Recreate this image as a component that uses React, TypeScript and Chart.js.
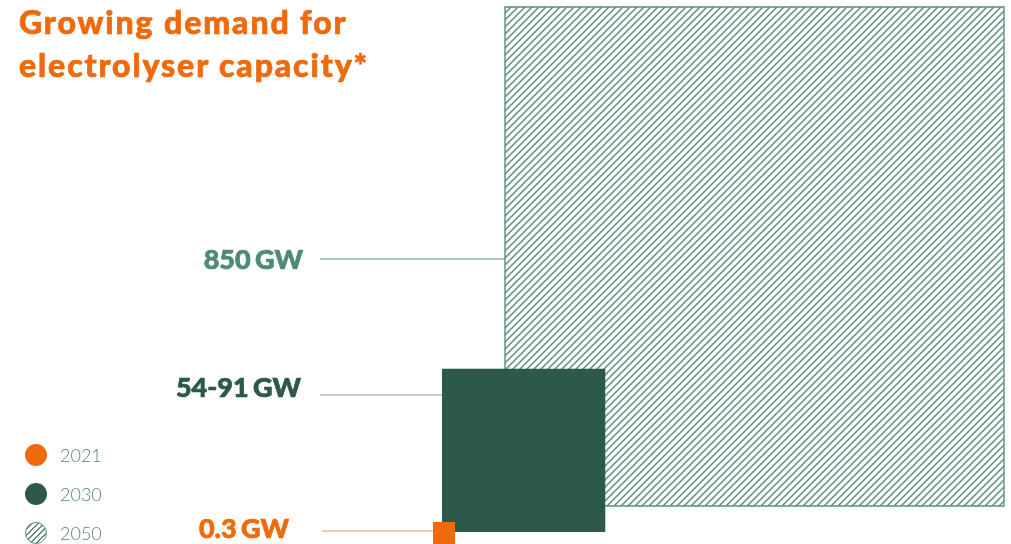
import React, { useEffect, useRef } from "react";
import { Chart, registerables } from "chart.js";

Chart.register(...registerables);

// ---- data ----
const years = ["2021", "2030", "2050"];
const capacityLabels = ["0.3 GW", "54-91 GW", "850 GW"];
const capacityLowGW = [0.3, 54, 850];
const capacityHighGW = [0.3, 91, 850];

// ---- styling / layout ----
const ORANGE = "#ef6a0c";
const DARK_GREEN = "#2c594b";
const HATCH_GREEN = "#5b8e7d";
const W = 1011;
const H = 544;
const PX_PER_ROOT_GW = 499 / Math.sqrt(850);
const MIN_SIDE = 22;
// bottom-left anchor of each square (canvas units)
const anchorX = [433, 442, 505];
const anchorBottom = [544, 532, 506];
const leaderY = [531, 395, 259];
const leaderStartX = [322, 320, 320];
const labelRightX = [289, 301, 303];
const labelBaseline = [538, 397, 269];
const labelColors = [ORANGE, DARK_GREEN, "#4f8a77"];
const leaderColors = ["#f2904c", "#7fa398", "#5b8e7d"];

function makeHatch(ctx: CanvasRenderingContext2D) {
  const s = 7;
  const c = document.createElement("canvas");
  c.width = s;
  c.height = s;
  const g = c.getContext("2d")!;
  g.strokeStyle = HATCH_GREEN;
  g.lineWidth = 1.5;
  g.beginPath();
  g.moveTo(0, s);
  g.lineTo(s, 0);
  g.moveTo(-1, 1);
  g.lineTo(1, -1);
  g.moveTo(s - 1, s + 1);
  g.lineTo(s + 1, s - 1);
  g.stroke();
  return ctx.createPattern(c, "repeat");
}

export default function App() {
  const ref = useRef<HTMLCanvasElement>(null);
  useEffect(() => {
    document.body.style.margin = "0";
    const canvas = ref.current!;
    const ctx = canvas.getContext("2d")!;
    const hatch = makeHatch(ctx);

    const squareDatasets = years.map((y, i) => {
      const side = Math.max(Math.sqrt(capacityHighGW[i]) * PX_PER_ROOT_GW, MIN_SIDE);
      const x0 = anchorX[i];
      const yb = anchorBottom[i];
      const pts = [
        { x: x0, y: yb },
        { x: x0 + side, y: yb },
        { x: x0 + side, y: yb - side },
        { x: x0, y: yb - side },
        { x: x0, y: yb },
      ];
      const fillColor = i === 0 ? ORANGE : i === 1 ? DARK_GREEN : hatch;
      return {
        label: y,
        data: pts,
        showLine: true,
        fill: "shape" as any,
        backgroundColor: fillColor as any,
        borderColor: i === 2 ? HATCH_GREEN : fillColor,
        borderWidth: i === 2 ? 1.4 : 0,
        pointRadius: 0,
        tension: 0,
      };
    });

    const leaderDatasets = years.map((y, i) => ({
      label: "leader " + y,
      data: [
        { x: leaderStartX[i], y: leaderY[i] },
        { x: anchorX[i], y: leaderY[i] },
      ],
      showLine: true,
      fill: false,
      borderColor: leaderColors[i],
      borderWidth: 1,
      pointRadius: 0,
    }));

    const labelPlugin = {
      id: "capLabels",
      afterDatasetsDraw(chart: any) {
        const c = chart.ctx;
        const xs = chart.scales.x;
        const ys = chart.scales.y;
        c.save();
        c.font = "900 27px Lato";
        c.textAlign = "right";
        c.textBaseline = "alphabetic";
        try {
          c.wordSpacing = "-2px";
        } catch (e) {}
        c.lineWidth = 0.7;
        capacityLabels.forEach((t, i) => {
          c.fillStyle = labelColors[i];
          c.strokeStyle = labelColors[i];
          const px = xs.getPixelForValue(labelRightX[i]);
          const py = ys.getPixelForValue(labelBaseline[i]);
          c.fillText(t, px, py);
          c.strokeText(t, px, py);
        });
        c.restore();
      },
    };

    const chart = new Chart(canvas, {
      type: "scatter",
      data: { datasets: [...squareDatasets, ...leaderDatasets] as any },
      options: {
        animation: false,
        responsive: false,
        maintainAspectRatio: false,
        layout: { padding: 0 },
        scales: {
          x: { type: "linear", min: 0, max: W, display: false },
          y: { type: "linear", min: 0, max: H, reverse: true, display: false },
        },
        plugins: { legend: { display: false }, tooltip: { enabled: false } },
      },
      plugins: [labelPlugin],
    });
    return () => chart.destroy();
  }, []);

  const legendFills = [
    { background: ORANGE },
    { background: DARK_GREEN },
    {
      background: `repeating-linear-gradient(135deg, ${HATCH_GREEN} 0 1.4px, #fff 1.4px 4.2px)`,
      border: `1.4px solid ${HATCH_GREEN}`,
      boxSizing: "border-box" as const,
    },
  ];
  const legendY = [455, 494, 533];

  return (
    <div style={{ position: "relative", width: W, height: H, overflow: "hidden", fontFamily: "Lato, sans-serif" }}>
      <canvas ref={ref} width={W} height={H} style={{ position: "absolute", left: 0, top: 0, width: W, height: H }} />
      <div
        style={{
          position: "absolute",
          left: 19,
          top: 0,
          color: ORANGE,
          fontWeight: 900,
          fontSize: 32,
          lineHeight: "43px",
          letterSpacing: 1.9,
          WebkitTextStroke: `0.7px ${ORANGE}`,
        }}
      >
        Growing demand for
        <br />
        electrolyser capacity*
      </div>
      {years.map((y, i) => (
        <div key={y} style={{ position: "absolute", left: 25, top: legendY[i] - 11, height: 22, display: "flex", alignItems: "center" }}>
          <div style={{ width: 22, height: 22, borderRadius: "50%", ...legendFills[i] }} />
          <span style={{ marginLeft: 13, fontSize: 18, fontWeight: 300, color: "#5d8275" }}>{y}</span>
        </div>
      ))}
    </div>
  );
}
